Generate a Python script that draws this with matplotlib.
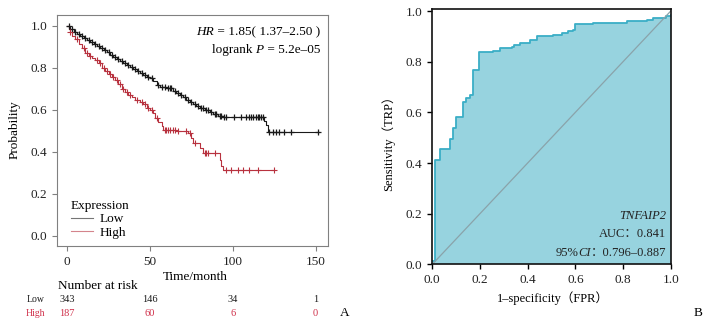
import numpy as np
import matplotlib
matplotlib.use("Agg")
import matplotlib.pyplot as plt
from matplotlib import transforms

plt.rcParams['font.family'] = ['Liberation Serif', 'Noto Sans CJK SC']
plt.rcParams['axes.unicode_minus'] = False

# ---- Kaplan-Meier data (A) ----
low_t = [0, 2, 4, 6, 8, 10, 12, 14, 16, 18, 20, 22, 24, 26, 28, 30, 32, 34, 36, 38, 40,
         42, 44, 46, 48, 50, 52, 54, 56, 60, 64, 66, 68, 70, 72, 74, 76, 78, 80, 83, 86,
         88, 91, 94, 119, 120, 121, 152]
low_s = [1.0, 0.985, 0.972, 0.962, 0.952, 0.942, 0.933, 0.922, 0.912, 0.903, 0.895,
         0.884, 0.874, 0.862, 0.852, 0.843, 0.833, 0.823, 0.813, 0.802, 0.792, 0.782,
         0.773, 0.765, 0.757, 0.752, 0.735, 0.717, 0.710, 0.702, 0.690, 0.680, 0.670,
         0.660, 0.648, 0.638, 0.628, 0.618, 0.608, 0.598, 0.590, 0.578, 0.570, 0.563,
         0.545, 0.527, 0.495, 0.495]
low_cens = [1, 3, 5, 7, 9, 11, 13, 15, 17, 19, 21, 23, 25, 27, 29, 31, 33, 35, 37, 39, 41,
            43, 45, 47, 49, 51, 55, 57, 59, 61, 62, 63, 65, 67, 69, 71, 73, 75, 77, 79, 81,
            82, 84, 85, 87, 89, 90, 92, 93, 95, 96, 101, 105, 108, 110, 111, 112, 114, 115,
            116, 117, 118, 122, 124, 126, 128, 131, 135, 151.5]

high_t = [0, 1, 2, 3, 5, 7, 9, 11, 13, 15, 17, 19, 21, 23, 25, 27, 29, 31, 33, 35, 37, 39,
          41, 44, 46, 48, 50, 52, 53, 55, 57, 58, 66, 73, 75, 76, 80, 82, 92, 93, 94, 125]
high_s = [1.0, 0.985, 0.968, 0.952, 0.935, 0.915, 0.895, 0.870, 0.855, 0.845, 0.835, 0.820,
          0.800, 0.785, 0.770, 0.755, 0.740, 0.720, 0.700, 0.685, 0.670, 0.658, 0.648,
          0.638, 0.625, 0.610, 0.600, 0.585, 0.560, 0.540, 0.520, 0.503, 0.497, 0.490,
          0.465, 0.440, 0.415, 0.392, 0.360, 0.330, 0.310, 0.310]
high_cens = [2, 6, 10, 12, 14, 18, 20, 22, 24, 26, 28, 30, 32, 34, 36, 38, 42, 45, 47, 49,
             51, 54, 59, 60, 61, 62, 64, 65, 67, 72, 74, 77, 83, 84, 85, 89, 96, 99, 103,
             106, 110, 115, 125]

risk_times = [0, 50, 100, 150]
risk_low = [343, 146, 34, 1]
risk_high = [187, 60, 6, 0]

# ---- ROC data (B) ----
fpr = [0.0, 0.011, 0.032, 0.074, 0.088, 0.100, 0.130, 0.141, 0.158, 0.172, 0.197, 0.256,
       0.284, 0.333, 0.343, 0.368, 0.410, 0.438, 0.508, 0.543, 0.570, 0.592, 0.600, 0.676,
       0.815, 0.900, 0.927, 0.980, 1.0]
tpr = [0.013, 0.410, 0.454, 0.493, 0.537, 0.582, 0.642, 0.657, 0.668, 0.769, 0.837, 0.841,
       0.853, 0.857, 0.866, 0.874, 0.884, 0.900, 0.906, 0.913, 0.920, 0.926, 0.948, 0.954,
       0.960, 0.966, 0.974, 0.980, 0.985]

low_col = '#1a1a1a'
high_col = '#b8323f'
txt_col = '#222222'

W, H = 710, 327
fig = plt.figure(figsize=(W / 100, H / 100), dpi=100)


def fx(px):
    return px / W


def fy(py):
    return 1 - py / H


# ================= panel A =================
ax = fig.add_axes([fx(57), fy(246), fx(328 - 57), (246 - 15) / H])


def surv_at(times, surv, t):
    idx = np.searchsorted(times, t, side='right') - 1
    return np.asarray(surv)[idx]


l1, = ax.step(low_t, low_s, where='post', color=low_col, lw=0.8)
l2, = ax.step(high_t, high_s, where='post', color=high_col, lw=0.8)
ax.plot(low_cens, surv_at(low_t, low_s, low_cens), ls='none', marker='+',
        ms=4.5, mew=0.9, color=low_col)
ax.plot(high_cens, surv_at(high_t, high_s, high_cens), ls='none', marker='+',
        ms=4.5, mew=0.8, color=high_col)

ax.set_xlim(-6.1, 157.5)
ax.set_ylim(-0.05, 1.051)
ax.set_xticks([0, 50, 100, 150])
ax.set_yticks([0.0, 0.2, 0.4, 0.6, 0.8, 1.0])
ax.set_yticklabels(['0.0', '0.2', '0.4', '0.6', '0.8', '1.0'])
for s in ax.spines.values():
    s.set_color('#808080')
    s.set_linewidth(0.8)
ax.tick_params(colors='#808080', labelcolor=txt_col, labelsize=9.5, length=3.5, width=0.8)

leg = ax.legend([l1, l2], ['Low', 'High'], title='Expression', frameon=False,
                fontsize=9.5, title_fontsize=9.5, handlelength=1.7, handletextpad=0.5,
                labelspacing=0.1, alignment='left', loc='upper left',
                borderpad=0, bbox_to_anchor=(fx(64), fy(193)), bbox_transform=fig.transFigure)
for h in leg.legend_handles:
    h.set_alpha(0.6)

# HR / logrank text
t1 = fig.text(fx(320), fy(32), ' = 1.85( 1.37–2.50 )', ha='right', va='center', fontsize=9.5)
ax.annotate('HR', xy=(0, 0), xycoords=t1, ha='right', va='bottom', fontsize=9.5,
            fontstyle='italic')
t2 = fig.text(fx(320), fy(50), ' = 5.2e–05', ha='right', va='center', fontsize=9.5)
t3 = ax.annotate('P', xy=(0, 0), xycoords=t2, ha='right', va='bottom', fontsize=9.5,
                 fontstyle='italic')
ax.annotate('logrank ', xy=(0, 0), xycoords=t3, ha='right', va='bottom', fontsize=9.5)

fig.text(fx(15), fy(130), 'Probability', rotation=90, ha='center', va='center', fontsize=9.5)
fig.text(fx(195), fy(277), 'Time/month', ha='center', va='center', fontsize=9.5)
fig.text(fx(58), fy(286), 'Number at risk', ha='left', va='center', fontsize=9.5)

tr = transforms.blended_transform_factory(ax.transData, fig.transFigure)
fig.text(fx(45), fy(300), 'Low', ha='right', va='center', fontsize=7, color=low_col)
fig.text(fx(45), fy(314), 'High', ha='right', va='center', fontsize=7, color='#d0304a')
for t, a, b in zip(risk_times, risk_low, risk_high):
    fig.text(t, fy(300), str(a), transform=tr, ha='center', va='center', fontsize=7.5,
             color=low_col)
    fig.text(t, fy(314), str(b), transform=tr, ha='center', va='center', fontsize=7.5,
             color='#d0304a')
fig.text(fx(345), fy(313), 'A', ha='center', va='center', fontsize=9.5)

# ================= panel B =================
bx = fig.add_axes([fx(432.3), fy(264.3), fx(670.7 - 432.3), (264.3 - 9.3) / H])
bx.fill_between(fpr, tpr, step='post', color='#97d3df', lw=0)
bx.step(fpr, tpr, where='post', color='#3aaec6', lw=1.3)
bx.plot([0, 1], [0, 1], color='#8aa3aa', lw=0.9)
bx.set_xlim(0, 1)
bx.set_ylim(0, 1.007)
ticks = [0.0, 0.2, 0.4, 0.6, 0.8, 1.0]
bx.set_xticks(ticks)
bx.set_yticks(ticks)
bx.set_xticklabels([f'{v:.1f}' for v in ticks])
bx.set_yticklabels([f'{v:.1f}' for v in ticks])
for s in bx.spines.values():
    s.set_color('#111111')
    s.set_linewidth(1.2)
bx.tick_params(labelsize=9.5, length=3.5, width=1.0, labelcolor=txt_col)

fig.text(fx(388), fy(140), 'Sensitivity（TRP）', rotation=90, ha='center', va='center',
         fontsize=9)
fig.text(fx(553), fy(298), '1–specificity（FPR）', ha='center', va='center', fontsize=9)

btr = transforms.blended_transform_factory(bx.transAxes, fig.transFigure)
bx.text(0.982, fy(216), 'TNFAIP2', transform=btr, ha='right', va='center', fontsize=9,
        fontstyle='italic', color=txt_col)
bx.text(0.982, fy(234), 'AUC：0.841', transform=btr, ha='right', va='center',
        fontsize=9, color=txt_col)
c1 = bx.text(0.982, fy(253), '：0.796–0.887', transform=btr, ha='right', va='center',
             fontsize=9, color=txt_col)
c2 = bx.annotate('CI', xy=(0, 0), xycoords=c1, ha='right', va='bottom', fontsize=9,
                 fontstyle='italic', color=txt_col)
bx.annotate('95%', xy=(0, 0), xycoords=c2, ha='right', va='bottom', fontsize=9,
            color=txt_col)

fig.text(fx(698), fy(313), 'B', ha='center', va='center', fontsize=9.5)

fig.savefig('out.png', dpi=100)
